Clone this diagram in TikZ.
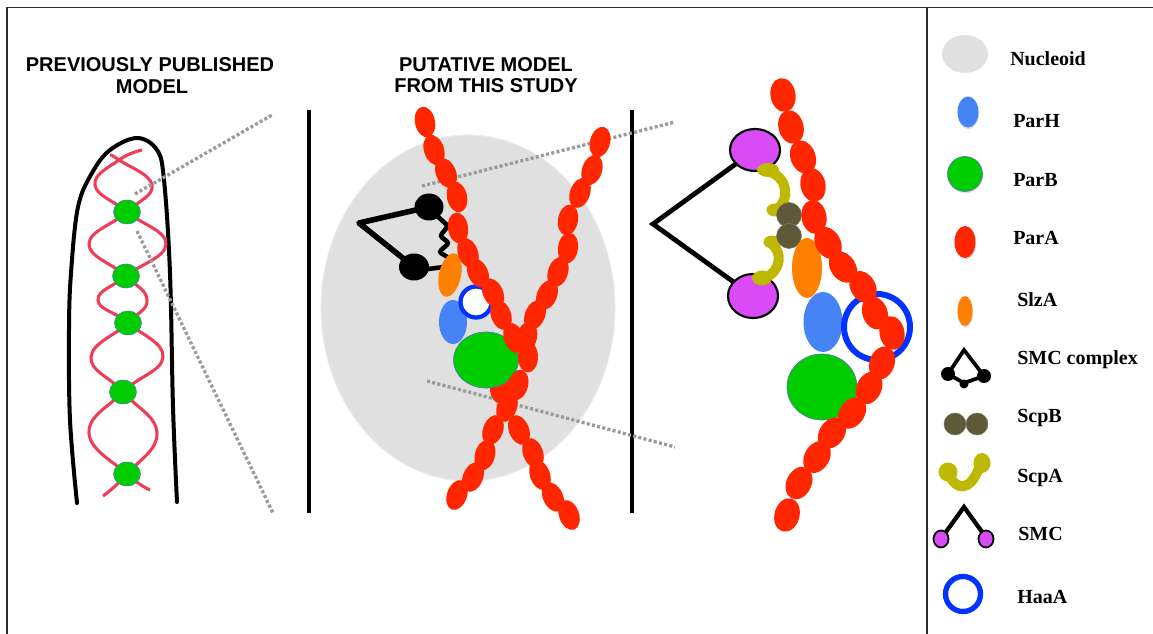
\documentclass[tikz,border=0pt]{standalone}
\usepackage{fontspec}
\setmainfont{Liberation Serif}
\newfontfamily\titlefont{Liberation Sans}
\usetikzlibrary{shadows}
\definecolor{nucgray}{RGB}{224,224,224}
\definecolor{nucedge}{RGB}{236,236,236}
\definecolor{parh}{RGB}{70,132,245}
\definecolor{parb}{RGB}{0,204,0}
\definecolor{parbedge}{RGB}{80,120,190}
\definecolor{para}{RGB}{255,38,0}
\definecolor{slza}{RGB}{255,127,0}
\definecolor{haaa}{RGB}{0,51,255}
\definecolor{smcpurple}{RGB}{217,75,247}
\definecolor{scpb}{RGB}{94,89,56}
\definecolor{scpa}{RGB}{191,184,0}
\definecolor{helix}{RGB}{240,60,85}
\definecolor{dotgray}{RGB}{155,155,155}
\definecolor{framegray}{RGB}{45,45,45}

\begin{document}
\begin{tikzpicture}[x=0.75pt,y=-0.75pt,
  title/.style={font=\titlefont\bfseries\fontsize{15}{18}\selectfont, anchor=base, inner sep=0pt},
  legendtext/.style={font=\bfseries\fontsize{15}{18}\selectfont, anchor=base west, inner sep=0pt},
  zoomline/.style={dotgray, line width=2.5pt, dash pattern=on 2.3pt off 1.7pt},
  divider/.style={black, line width=2.5pt},
  legshadow/.style={drop shadow={opacity=0.25, shadow xshift=0.3pt, shadow yshift=-1.3pt}}
]
\useasboundingbox (0,0) rectangle (1153,634);

% outer frame and legend divider
\draw[framegray, line width=1.3pt] (7,634) -- (7,7.5) -- (1153,7.5);
\draw[framegray, line width=1.3pt] (927,7.5) -- (927,634);

% titles
\node[title] (t1a) at (150,72) {PREVIOUSLY PUBLISHED};
\node[title] (t1b) at (152,94) {MODEL};
\node[title] (t2a) at (486,72) {PUTATIVE MODEL};
\node[title] (t2b) at (486,93) {FROM THIS STUDY};

% panel dividers
\draw[divider] (309,110) -- (309,513);
\draw[divider] (632,110) -- (632,513);

% ---------- left panel: cell with helical chromosome ----------
\draw[black, line width=3pt, line cap=round]
  plot[smooth, tension=0.6] coordinates {(77,503) (70,420) (69,330) (71,273) (78,207) (92,173) (110,150) (137,138) (157,150) (164,180) (170,273) (173,407) (177,502)};
\draw[helix, line width=2.3pt]
  plot[smooth, tension=0.75] coordinates {(142,150) (119,160) (95,185) (127,212) (166,244) (126,276) (98,300) (128,323) (163,357) (123,392) (89,433) (127,474) (150,490)};
\draw[helix, line width=2.3pt]
  plot[smooth, tension=0.75] coordinates {(110,155) (119,160) (152,185) (127,212) (89,244) (126,276) (147,300) (128,323) (91,357) (123,392) (157,433) (127,474) (103,496)};
\foreach \y/\x in {212/127, 276/126, 323/128, 392/123, 474/127}
  \filldraw[fill=parb, draw=parbedge, line width=0.4pt] (\x,\y) ellipse [x radius=13.5, y radius=12];
\draw[zoomline] (135,194) -- (272,115);
\draw[zoomline] (137,231) -- (273,513);

% ---------- middle panel ----------
\filldraw[fill=nucgray, draw=nucedge, line width=0.8pt] (468,308) ellipse [x radius=147, y radius=173];
\draw[zoomline] (422,186) -- (675,122);
\draw[zoomline] (427,381) -- (675,447);

% SMC complex
\draw[black, line width=4.2pt, line join=round] (429,207) -- (359,223) -- (414,267);
\draw[black, line width=3.4pt, rounded corners=2pt]
  (433,212) -- (448,226) -- (440,236) -- (449,243) -- (439,252) -- (449,258) -- (444,267) -- (420,270);
\fill[black] (429,207) ellipse [x radius=14.5, y radius=13.5];
\fill[black] (414,267) ellipse [x radius=15, y radius=13.5];

\fill[slza, rotate around={-12:(450,275)}] (450,275) ellipse [x radius=11, y radius=22];
\fill[parh] (453,322) ellipse [x radius=14, y radius=22];
\draw[haaa, line width=3.2pt, fill=white] (476,302) circle [radius=15.5];
\fill[para] (500,388) ellipse [x radius=10, y radius=15.5];
\filldraw[fill=parb, draw=parbedge, line width=0.5pt] (486,360) ellipse [x radius=32.5, y radius=28];

\foreach \x/\y/\r in {425/122/12, 434/150/18, 446/173/22, 457/197/12, 458/228/8, 468/253/20, 478/273/25, 493/293/25, 501/315/20, 514/338/20, 519/430/22, 533/453/20, 540/475/20, 553/497/25, 569/515/20}
  \fill[para, rotate around={\r:(\x,\y)}] (\x,\y) ellipse [x radius=10, y radius=15.5];
\foreach \x/\y/\r in {600/142/-15, 592/170/-18, 580/193/-20, 568/220/-10, 568/248/-8, 558/272/-18, 547/295/-22, 535/315/-22, 527/337/-12, 528/357/0, 518/385/-15, 507/407/-20, 493/430/-20, 485/455/-15, 473/477/-22, 457/495/-20}
  \fill[para, rotate around={\r:(\x,\y)}] (\x,\y) ellipse [x radius=10, y radius=15.5];

% ---------- right panel: enlarged view ----------
\draw[black, line width=3.6pt, line join=miter] (755,150) -- (653,224) -- (753,296);
\filldraw[fill=smcpurple, draw=black, line width=1.6pt] (755,150) ellipse [x radius=25, y radius=21];
\filldraw[fill=smcpurple, draw=black, line width=1.6pt] (753,296) ellipse [x radius=25, y radius=22];

% ScpA kleisin arms
\draw[scpa, line width=7.5pt, line cap=round] (770,172) .. controls (788,178) and (790,200) .. (777,209);
\fill[scpa] (768,170) ellipse [x radius=11, y radius=7];
\fill[scpa] (775,210) ellipse [x radius=8.5, y radius=6.5];
\draw[scpa, line width=7.5pt, line cap=round] (772,244) .. controls (782,252) and (782,270) .. (765,278);
\fill[scpa] (772,242) ellipse [x radius=8.5, y radius=6.5];
\fill[scpa] (762,278) ellipse [x radius=10, y radius=7.5];

% ScpB pair
\filldraw[fill=scpb, draw=scpb!80!white, line width=0.4pt] (789,215) circle [radius=12.5];
\filldraw[fill=scpb, draw=scpb!80!white, line width=0.4pt] (789,236) circle [radius=12.5];

\fill[slza] (807,268) ellipse [x radius=15, y radius=30];
\fill[parh] (823,322) ellipse [x radius=19.5, y radius=30];
\filldraw[fill=parb, draw=parbedge, line width=0.5pt] (822,387) ellipse [x radius=35, y radius=33];
\draw[haaa, line width=4.5pt] (877,327) circle [radius=33];

\foreach \x/\y/\r in {783/95/10, 791/127/15, 803/157/20, 813/185/12, 814/217/10, 828/243/30, 843/267/35, 863/287/30, 875/313/20, 892/333/10, 882/363/-20, 869/388/-25, 852/413/-35, 832/433/-35, 817/457/-30, 799/483/-25, 787/515/-15}
  \fill[para, rotate around={\r:(\x,\y)}] (\x,\y) ellipse [x radius=12.5, y radius=17];

% ---------- legend ----------
\fill[nucgray] (965,54) ellipse [x radius=23, y radius=19];
\node[legendtext] (lnuc) at (1010,66) {Nucleoid};

\fill[parh, legshadow] (968,112) ellipse [x radius=10.5, y radius=15.5];
\node[legendtext] (lparh) at (1013,128) {ParH};

\filldraw[fill=parb, draw=parbedge, line width=0.5pt, legshadow] (965,174) circle [radius=17.5];
\node[legendtext] (lparb) at (1013,187) {ParB};

\fill[para, legshadow] (965,242) ellipse [x radius=10.5, y radius=16];
\node[legendtext] (lpara) at (1013,245) {ParA};

\fill[slza, legshadow] (965,311) ellipse [x radius=7.5, y radius=15];
\node[legendtext] (lslza) at (1017,307) {SlzA};

\draw[black, line width=2.8pt, line join=miter] (948,374) -- (964,350) -- (984,376);
\draw[black, line width=2.8pt] (948,374) -- (964,383) -- (984,376);
\fill[black] (948,374) circle [radius=7];
\fill[black] (984,376) circle [radius=7];
\fill[black] (964,384) circle [radius=4.5];
\node[legendtext] (lsmcc) at (1017,365) {SMC complex};

\filldraw[fill=scpb, draw=scpb!80!white, line width=0.4pt] (955,424) circle [radius=11];
\filldraw[fill=scpb, draw=scpb!80!white, line width=0.4pt] (977,424) circle [radius=11];
\node[legendtext] (lscpb) at (1017,423) {ScpB};

\draw[scpa, line width=7.5pt, line cap=round] (950,476) .. controls (956,490) and (970,492) .. (979,468);
\fill[scpa] (948,472) circle [radius=9.5];
\fill[scpa] (982,463) ellipse [x radius=8.5, y radius=10];
\node[legendtext] (lscpa) at (1017,482) {ScpA};

\draw[black, line width=3.2pt, line join=miter] (943,536) -- (964,507) -- (985,536);
\filldraw[fill=smcpurple, draw=black, line width=1.3pt] (941,539) ellipse [x radius=7.5, y radius=8.5];
\filldraw[fill=smcpurple, draw=black, line width=1.3pt] (986,539) ellipse [x radius=7.5, y radius=8.5];
\node[legendtext] (lsmc) at (1018,540) {SMC};

\draw[haaa, line width=4pt, fill=white, legshadow] (963,594) circle [radius=17.5];
\node[legendtext] (lhaaa) at (1017,603) {HaaA};
\end{tikzpicture}
\end{document}
